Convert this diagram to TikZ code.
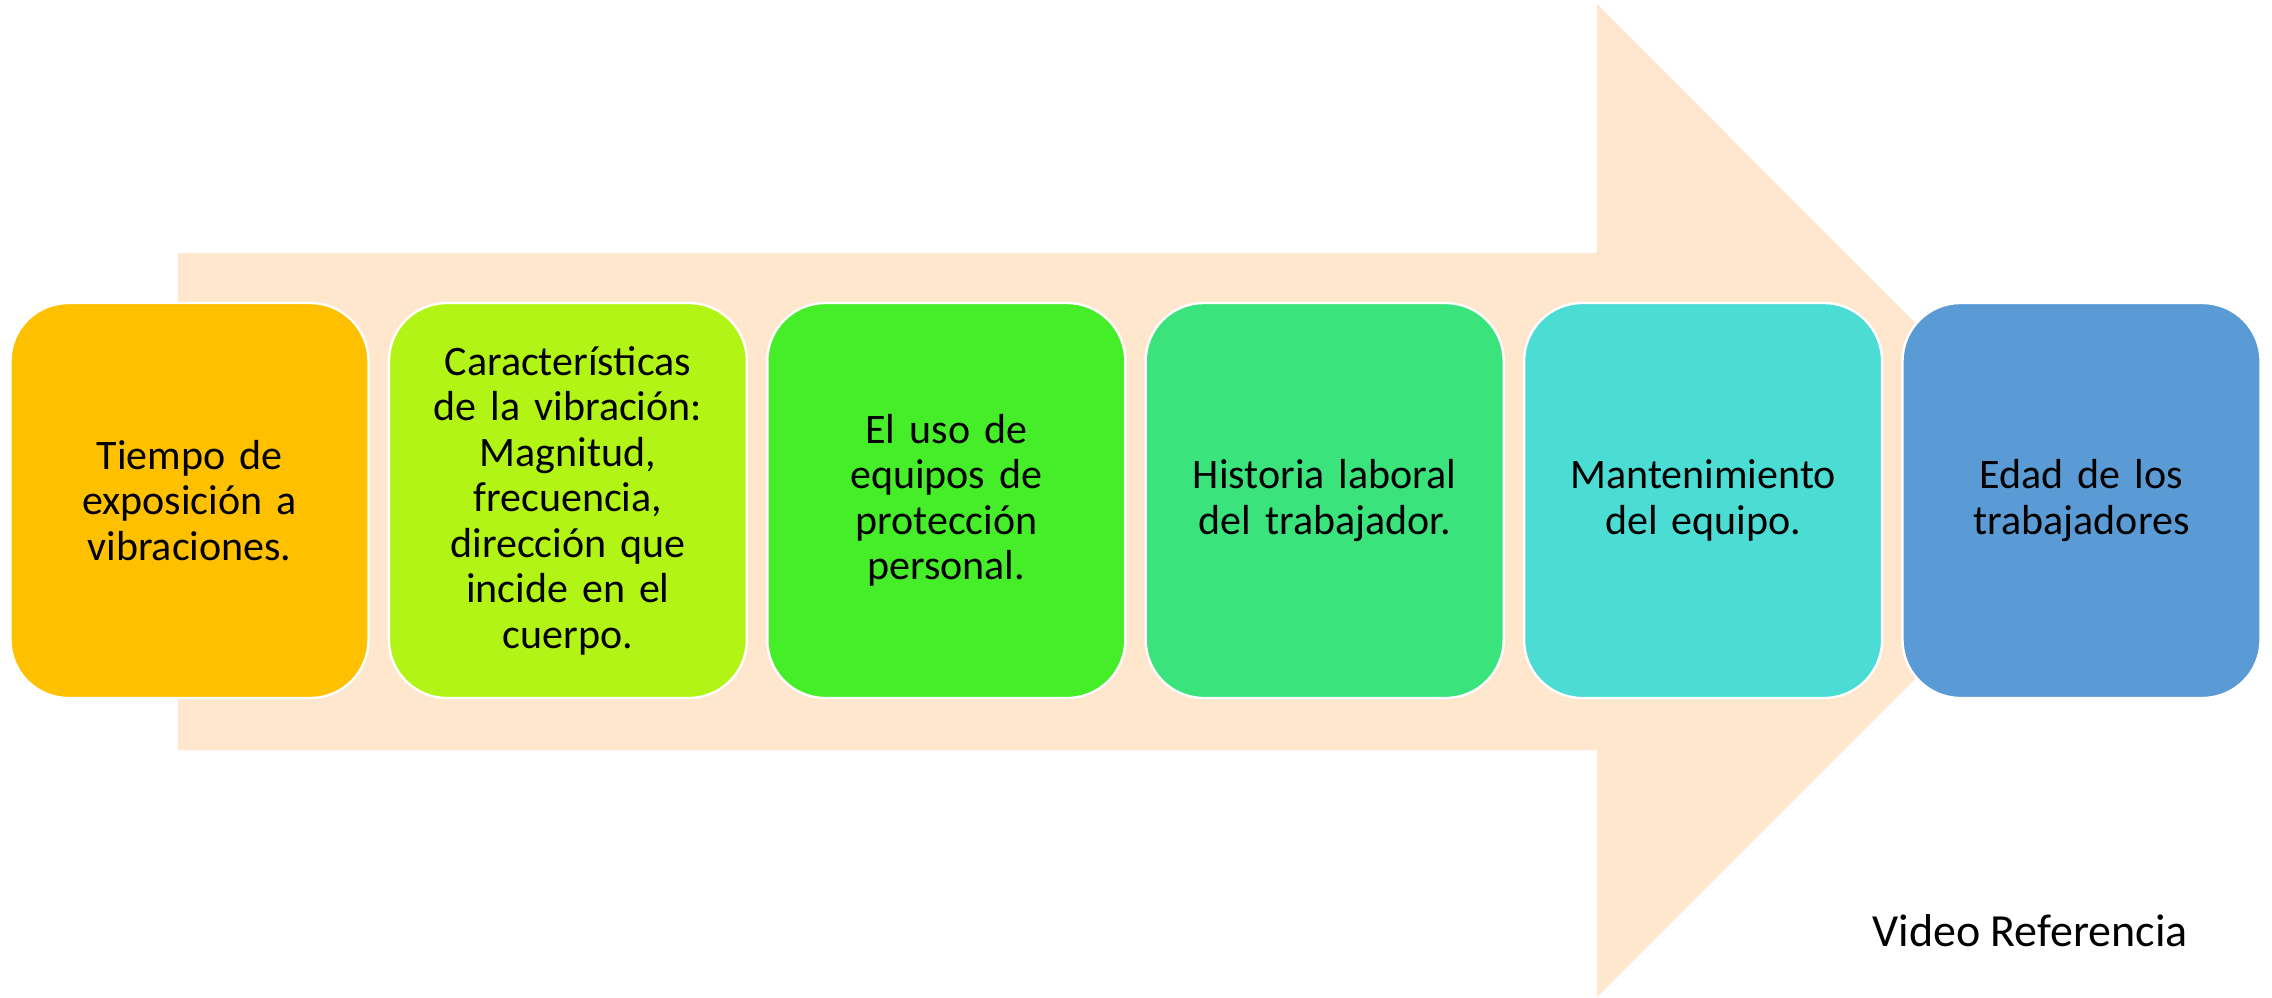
\documentclass[tikz,border=0pt]{standalone}
\usepackage{fontspec}
\setmainfont{Carlito}
\usepackage{xcolor}
\usetikzlibrary{positioning}

\definecolor{flecha}{HTML}{FEE7CD}
\definecolor{tiempocol}{HTML}{FFC000}
\definecolor{caractcol}{HTML}{B2F416}
\definecolor{usocol}{HTML}{46EE2A}
\definecolor{historiacol}{HTML}{3BE37D}
\definecolor{mantcol}{HTML}{4BDCD3}
\definecolor{edadcol}{HTML}{5B9BD5}

\begin{document}
\begin{tikzpicture}[x=0.5pt,y=-0.5pt,
		node distance=9pt,
		factor/.style={draw=white,line width=1.2pt,rounded corners=29pt,
			minimum width=179pt,minimum height=197.5pt,
			text width=165pt,align=center,inner sep=0pt,
			font=\fontsize{21}{22.75}\selectfont}]
		\fill[white] (0,0) rectangle (2272,997);
		\useasboundingbox (0,0) rectangle (2272,997);

		% big arrow behind the boxes
		\fill[flecha] (178,253) -- (1597,253) -- (1597,4) -- (2093,501)
			-- (1597,997) -- (1597,750) -- (178,750) -- cycle;

		\node[factor,fill=tiempocol] (tiempo) at (189.5,500.5)
			{Tiempo de\\exposición a\\vibraciones.};
		\node[factor,fill=caractcol,right=of tiempo] (caract)
			{Características\\de la vibración:\\Magnitud,\\frecuencia,\\dirección que\\incide en el\\cuerpo.};
		\node[factor,fill=usocol,right=of caract] (uso)
			{El uso de\\equipos de\\protección\\personal.};
		\node[factor,fill=historiacol,right=of uso] (historia)
			{Historia laboral\\del trabajador.};
		\node[factor,fill=mantcol,right=of historia] (mant)
			{Mantenimiento\\del equipo.};
		\node[factor,fill=edadcol,right=of mant] (edad)
			{Edad de los\\trabajadores};

		\node[anchor=base west,inner sep=0pt,font=\fontsize{23}{25}\selectfont]
			(video) at (1872,946) {Video Referencia};
	\end{tikzpicture}
\end{document}
